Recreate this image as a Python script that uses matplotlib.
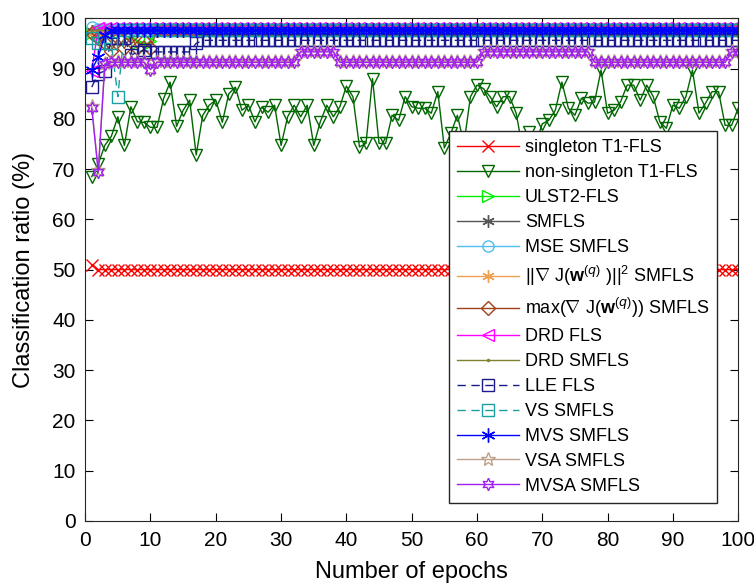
import numpy as np
import matplotlib
matplotlib.use("Agg")
import matplotlib.pyplot as plt

plt.rcParams['font.family'] = ['Liberation Sans', 'DejaVu Sans']
plt.rcParams['mathtext.fontset'] = 'custom'
plt.rcParams['mathtext.rm'] = 'Liberation Sans'
plt.rcParams['mathtext.bf'] = 'Liberation Sans:bold'

epochs = np.arange(1, 101)

# ---- data (classification ratio in %) ----
singleton = [51.0] + [50.0] * 99

non_singleton = [68.5, 71.0, 74.7, 76.5, 80.4, 74.7, 82.4, 79.4, 79.3, 78.3,
                 78.3, 84.0, 87.3, 78.5, 81.7, 83.7, 72.8, 80.7, 82.7, 83.7,
                 79.3, 85.0, 86.3, 81.7, 82.7, 79.4, 82.3, 81.3, 82.7, 74.7,
                 80.4, 82.7, 80.4, 82.7, 74.7, 79.4, 82.7, 80.4, 82.4, 86.5,
                 84.4, 74.4, 75.1, 88.0, 75.1, 75.1, 80.7, 79.7, 84.4, 82.4,
                 82.1, 82.1, 81.1, 85.4, 74.2, 77.1, 80.7, 75.0, 84.4, 86.7,
                 86.0, 84.4, 82.4, 84.4, 84.4, 81.1, 74.0, 77.4, 75.0, 79.0,
                 79.7, 81.7, 87.3, 82.1, 80.7, 84.1, 83.1, 83.3, 89.7, 81.1,
                 81.7, 83.4, 86.7, 86.7, 83.7, 86.7, 84.4, 79.4, 78.1, 82.7,
                 82.1, 84.4, 89.7, 81.1, 83.1, 85.4, 85.4, 78.7, 78.7, 82.1]

ulst2 = [97.0, 97.5, 97.7, 97.7, 97.7, 97.7, 97.0, 95.0, 94.5, 95.5] + [97.7] * 90
smfls = [97.5] + [97.7] * 99
mse = [98.3] + [97.8] * 99
grad_norm = [97.0, 96.0] + [97.7] * 98
grad_max = [97.0, 96.0, 95.0, 93.5, 96.0, 94.0, 96.5, 94.0, 95.5, 94.0] + [97.7] * 90
drd_fls = [89.6] + [98.0] * 99
drd_smfls = [97.7] * 100
lle_fls = [86.3, 89.0, 89.5, 96.0, 96.0, 96.0, 92.6, 93.3, 93.6, 93.3,
           93.3, 93.3, 93.3, 93.3, 93.3, 93.3, 95.0] + [95.6] * 83
vs_smfls = [96.0, 95.0, 95.0, 95.0, 84.4] + [97.7] * 95
mvs_smfls = [89.7, 92.3, 96.6] + [97.6] * 97
mvsa = ([82.1, 69.4, 90.8] + [91.2] * 6 + [89.8] + [91.2] * 22 + [93.3] * 6
        + [91.2] * 22 + [93.3] * 17 + [91.2] * 21 + [93.3] * 2)
vsa = ([82.5, 69.8, 91.0] + [91.4] * 6 + [90.0] + [91.4] * 22 + [93.5] * 6
       + [91.4] * 22 + [93.5] * 17 + [91.4] * 21 + [93.5] * 2)

labels = ['singleton T1-FLS', 'non-singleton T1-FLS', 'ULST2-FLS', 'SMFLS',
          'MSE SMFLS', r'||$\nabla$ J($\mathbf{w}^{(q)}$ )||$^2$ SMFLS',
          r'max($\nabla$ J($\mathbf{w}^{(q)}$)) SMFLS', 'DRD FLS', 'DRD SMFLS',
          'LLE FLS', 'VS SMFLS', 'MVS SMFLS', 'VSA SMFLS', 'MVSA SMFLS']

series = [singleton, non_singleton, ulst2, smfls, mse, grad_norm, grad_max,
          drd_fls, drd_smfls, lle_fls, vs_smfls, mvs_smfls, vsa, mvsa]
colors = ['#FF0000', '#006600', '#00EE00', '#555555', '#4DBEEE', '#F0A050',
          '#A0401A', '#FF00FF', '#808033', '#1A1A8C', '#1AA0A0', '#0000FF',
          '#BFA08A', '#A020F0']
asterisk = (6, 2, 0)
hexagram = (6, 1, 0)
markers = ['x', 'v', '>', asterisk, 'o', asterisk, 'D', '<', '.', 's', 's',
           asterisk, '*', hexagram]
styles = ['-', '-', '-', '-', '-', '-', '-', '-', '-', (0, (6, 4)), (0, (6, 4)),
          '-', '-', '-']
msizes = [8, 9, 8, 9, 8, 9, 7, 8, 3, 8, 8, 10, 10, 9]

fig = plt.figure(figsize=(7.54, 5.88), dpi=100)
ax = fig.add_axes([0.113, 0.114, 0.866, 0.855])

for y, c, m, ls, ms, lab in zip(series, colors, markers, styles, msizes, labels):
    ax.plot(epochs, y, linestyle=ls, color=c, marker=m, markersize=ms,
            markerfacecolor='none', markeredgecolor=c, linewidth=1.0,
            markeredgewidth=1.0, label=lab)

ax.set_xlim(0, 100)
ax.set_ylim(0, 100)
ax.set_xticks(np.arange(0, 101, 10))
ax.set_yticks(np.arange(0, 101, 10))
ax.tick_params(direction='in', top=True, right=True, length=6, labelsize=15,
               pad=7)
for s in ax.spines.values():
    s.set_color('#262626')
ax.set_xlabel('Number of epochs', fontsize=17, labelpad=8)
ax.set_ylabel('Classification ratio (%)', fontsize=17, labelpad=4)

leg = ax.legend(loc='lower right', bbox_to_anchor=(0.968, 0.036), fontsize=13,
                handlelength=3.4, handletextpad=0.35, labelspacing=0.44,
                fancybox=False, framealpha=1, edgecolor='#262626',
                borderpad=0.45, borderaxespad=0)
leg.get_frame().set_linewidth(1.0)

fig.savefig('out.png', dpi=100)
